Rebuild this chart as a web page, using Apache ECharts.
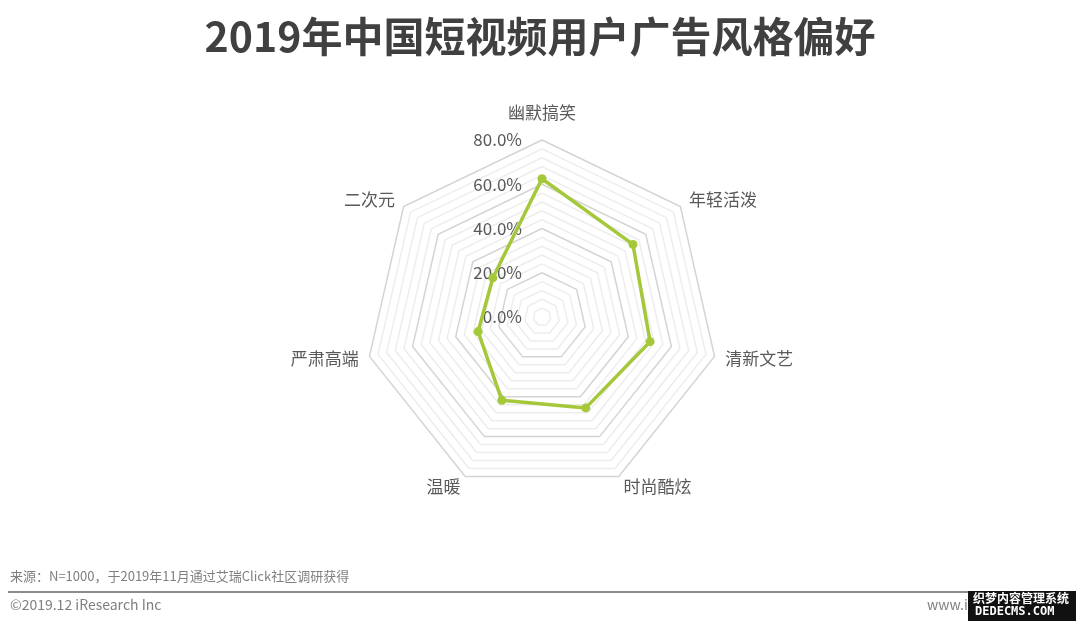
<!DOCTYPE html>
<html>
<head>
<meta charset="utf-8">
<script src="https://cdn.jsdelivr.net/npm/echarts@6/dist/echarts.min.js"></script>
<style>
html,body{margin:0;padding:0;background:#fff;}
#main{width:1080px;height:628px;}
</style>
</head>
<body>
<div id="main"></div>
<script>
// Indicators listed in ECharts' counter-clockwise order starting from the top
const categories = ['幽默搞笑', '二次元', '严肃高端', '温暖', '时尚酷炫', '清新文艺', '年轻活泼'];
const values = [62.5, 28.4, 29.6, 41.8, 45.6, 50.1, 52.6];
const axisMax = 80;
const tickLabels = ['0.0%', '20.0%', '40.0%', '60.0%', '80.0%'];
const titleText = '2019年中国短视频用户广告风格偏好';
const sourceText = '来源：N=1000，于2019年11月通过艾瑞Click社区调研获得';
const copyrightText = '©2019.12 iResearch Inc';
const siteText = 'www.iresearch.com.cn';

const FONT = '"Noto Sans CJK SC", "Noto Sans", sans-serif';
const chart = echarts.init(document.getElementById('main'));

const indicator = categories.map((name, i) => {
  const ind = { name: name, min: 0, max: axisMax };
  if (i === 0) {
    ind.axisLabel = {
      show: true,
      fontSize: 17,
      color: '#595959',
      fontFamily: FONT,
      align: 'right',
      verticalAlign: 'middle',
      margin: 20,
      formatter: function (v) {
        const idx = Math.round(v / 20);
        return (Math.abs(v - idx * 20) < 1e-6) ? tickLabels[idx] : '';
      }
    };
  }
  return ind;
});

chart.setOption({
  backgroundColor: '#ffffff',
  animation: false,
  title: {
    text: titleText,
    left: 'center',
    top: 11,
    textStyle: { fontSize: 41, fontWeight: 'bold', color: '#404040', fontFamily: FONT }
  },
  radar: {
    center: [542, 317],
    radius: 177,
    startAngle: 90,
    shape: 'polygon',
    splitNumber: 20,
    indicator: indicator,
    axisName: {
      color: '#595959', fontSize: 17, fontFamily: FONT,
      formatter: function (name) {
        return name === categories[0] ? '{t|' + name + '}' : name;
      },
      rich: { t: { color: '#595959', fontSize: 17, fontFamily: FONT, padding: [0, 0, 8, 0] } }
    },
    nameGap: 11,
    axisLine: { show: false },
    axisTick: { show: false },
    axisLabel: { show: false },
    splitArea: { show: false },
    splitLine: {
      lineStyle: { color: ['#d4d4d4', '#ededed', '#ededed', '#ededed', '#ededed'], width: 1.5 }
    }
  },
  series: [{
    type: 'radar',
    symbol: 'circle',
    symbolSize: 9,
    lineStyle: { color: '#a5c83a', width: 3.5 },
    itemStyle: { color: '#a5c83a' },
    data: [{ value: values }]
  }],
  graphic: [
    { type: 'text', left: 10, top: 570, style: { text: sourceText, fontSize: 13, fill: '#7f7f7f', fontFamily: FONT } },
    { type: 'line', shape: { x1: 8, y1: 592, x2: 1074, y2: 592 }, style: { stroke: '#8c8c8c', lineWidth: 2 } },
    { type: 'text', left: 10, top: 598, style: { text: copyrightText, fontSize: 14, fill: '#7f7f7f', fontFamily: FONT } },
    { type: 'text', left: 927, top: 598, style: { text: siteText, fontSize: 14, fill: '#7f7f7f', fontFamily: FONT } },
    { type: 'rect', shape: { x: 968, y: 591, width: 108, height: 30 }, style: { fill: '#111' } },
    { type: 'text', left: 973, top: 592, style: { text: '织梦内容管理系统', fontSize: 12, fontWeight: 'bold', fill: '#fff', fontFamily: FONT } },
    { type: 'text', left: 975, top: 606, style: { text: 'DEDECMS.COM', fontSize: 12, fontWeight: 'bold', fill: '#fff', fontFamily: 'DejaVu Sans Mono, monospace' } }
  ]
});
</script>
</body>
</html>
